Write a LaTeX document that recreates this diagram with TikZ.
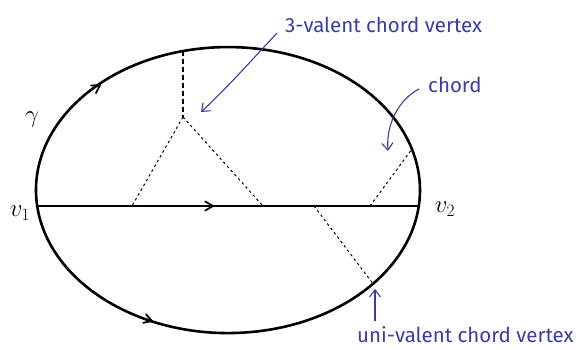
\documentclass[tikz,border=0pt]{standalone}
\usepackage{fontspec}
\setmainfont{Fira Sans}
\usetikzlibrary{arrows.meta}
\definecolor{pen}{RGB}{58,60,165}
\tikzset{
  curve/.style={line width=2.6pt, black},
  chev/.style={line width=1.8pt, line cap=round, line join=round},
  chordline/.style={line width=1pt, dash pattern=on 2.5pt off 3pt},
  chordlong/.style={line width=1.1pt, dash pattern=on 5pt off 3pt},
  note/.style={pen, font=\fontsize{20.5}{23}\selectfont, inner sep=0pt},
  pointer/.style={pen, line width=1.1pt, -{Straight Barb[length=7pt,width=11pt]}},
  lab/.style={font=\fontsize{24}{26}\selectfont, inner sep=0pt}
}
\begin{document}
\begin{tikzpicture}[x=1pt,y=-1pt]
\useasboundingbox (0,0) rectangle (585,349);
% vertices and points
\coordinate (v1) at (37.2,206);
\coordinate (v2) at (418.8,206);
\coordinate (top) at (183,51);
\coordinate (tri) at (183,117);
\coordinate (a) at (132,206);
\coordinate (b) at (263,206);
\coordinate (c) at (314,206);
\coordinate (uni) at (373,283.7);
\coordinate (d) at (370,206);
\coordinate (r) at (412,149);
% ellipse gamma
\draw[curve] (v1) arc[start angle=186.4, end angle=-6.4, x radius=192pt, y radius=143pt];
\draw[curve] (v1) arc[start angle=186.4, end angle=353.6, x radius=192pt, y radius=143pt];
% horizontal edge
\draw[curve, line width=2.4pt] (v1) -- (v2);
% arrowheads
\draw[chev] (100,85) ++(183.8:9pt) -- (100,85) -- ++(243.8:9pt);
\draw[chev] (152,321) ++(131.7:9pt) -- (152,321) -- ++(191.7:9pt);
\draw[chev] (213,206) ++(150:9pt) -- (213,206) -- ++(210:9pt);
% chords
\draw[chordlong] (top) -- (tri);
\draw[chordline] (tri) -- (a);
\draw[chordline] (tri) -- (b);
\draw[chordline] (c) -- (uni);
\draw[chordline] (d) -- (r);
% labels
\node[lab] (g) at (32,120) {$\gamma$};
\node[lab] (l1) at (20,213) {$v_1$};
\node[lab] (l2) at (445,209) {$v_2$};
% annotations
\node[note, anchor=base west] (n1) at (285,32) {3-valent chord vertex};
\node[note, anchor=base west] (n2) at (428,92) {chord};
\node[note, anchor=base west] (n3) at (357,342) {uni-valent chord vertex};
\coordinate (p1s) at (277,33);
\coordinate (p1e) at (201,112);
\draw[pointer] (p1s) .. controls (250,62) and (225,90) .. (p1e);
\coordinate (p2s) at (419,89);
\coordinate (p2e) at (388,151);
\draw[pointer] (p2s) .. controls (398,100) and (386,125) .. (p2e);
\coordinate (p3s) at (375,321);
\coordinate (p3e) at (375,289);
\draw[pointer] (p3s) -- (p3e);
\end{tikzpicture}
\end{document}
